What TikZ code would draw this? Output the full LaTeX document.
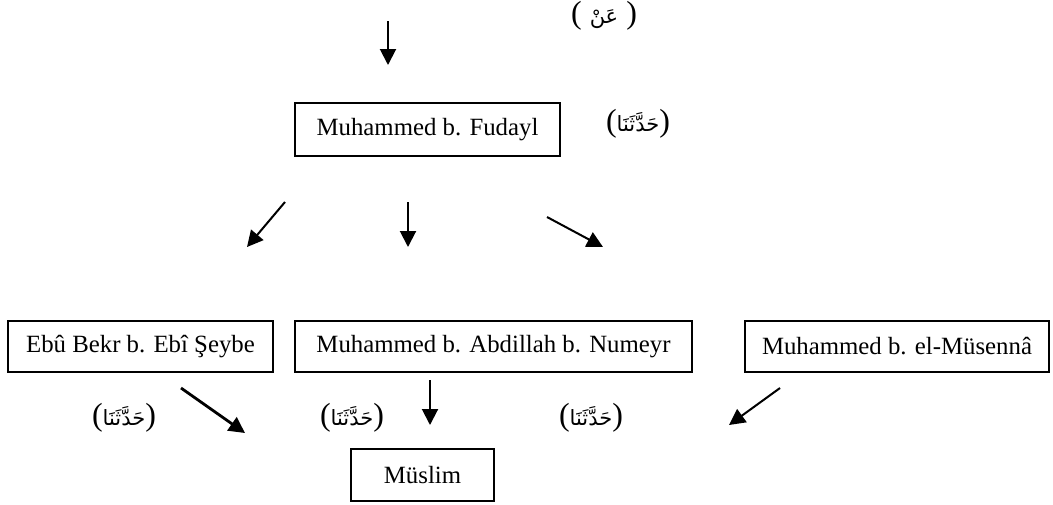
\documentclass[tikz,border=0pt]{standalone}
\usepackage{fontspec}
\setmainfont{Liberation Serif}
\newfontfamily\arabicfont[Script=Arabic]{DejaVu Sans}
\TeXXeTstate=1
\usetikzlibrary{arrows.meta}

\begin{document}
\begin{tikzpicture}[x=0.5pt, y=-0.5pt,
    narrator/.style={draw, line width=1pt, inner sep=0pt, font=\fontsize{12.4}{14}\selectfont},
    chain/.style={line width=1pt, -{Triangle[length=8pt, width=8pt]}},
    rivaya/.style={inner sep=0pt, font=\fontsize{16}{18}\selectfont}]
  \def\arsize{\fontsize{10.5}{13}\selectfont}
  \useasboundingbox (0,0) rectangle (1053,504);

  % Narrators
  \node[narrator, minimum width=132.5pt, minimum height=26.5pt] (fudayl) at (427.5,129.5) {Muhammed b. Fudayl};
  \node[narrator, minimum width=132.5pt, minimum height=25.5pt] (ebubekr) at (140.5,346.5) {Ebû Bekr b. Ebî Şeybe};
  \node[narrator, minimum width=198.5pt, minimum height=25.5pt] (numeyr) at (493.5,346.5) {Muhammed b. Abdillah b. Numeyr};
  \node[narrator, minimum width=152pt, minimum height=25.5pt] (musenna) at (897,346.5) {Muhammed b. el-Müsennâ};
  \node[narrator, minimum width=71.5pt, minimum height=26pt] (muslim) at (422.5,475) {Müslim};

  % Transmission terms
  \node[rivaya] (an) at (604,16) {( {\arabicfont\arsize\beginR عَنْ\endR} )};
  \node[rivaya] (h0) at (638,124) {({\arabicfont\arsize\beginR حَدَّثَنَا\endR})};
  \node[rivaya] (h1) at (124,418) {({\arabicfont\arsize\beginR حَدَّثَنَا\endR})};
  \node[rivaya] (h2) at (352,418) {({\arabicfont\arsize\beginR حَدَّثَنَا\endR})};
  \node[rivaya] (h3) at (591,418) {({\arabicfont\arsize\beginR حَدَّثَنَا\endR})};

  % Arrows
  \coordinate (t0) at (388,21);  \coordinate (t1) at (388,65);
  \coordinate (l0) at (285,202); \coordinate (l1) at (247,247);
  \coordinate (m0) at (408,202); \coordinate (m1) at (408,247);
  \coordinate (r0) at (547,217); \coordinate (r1) at (603,247);
  \coordinate (p0) at (181,388); \coordinate (p1) at (245,433);
  \coordinate (q0) at (430,380); \coordinate (q1) at (430,425);
  \coordinate (s0) at (780,388); \coordinate (s1) at (729,425);

  \draw[chain] (t0) -- (t1);
  \draw[chain] (l0) -- (l1);
  \draw[chain] (m0) -- (m1);
  \draw[chain] (r0) -- (r1);
  \draw[chain, line width=1.4pt] (p0) -- (p1);
  \draw[chain] (q0) -- (q1);
  \draw[chain] (s0) -- (s1);
\end{tikzpicture}
\end{document}
